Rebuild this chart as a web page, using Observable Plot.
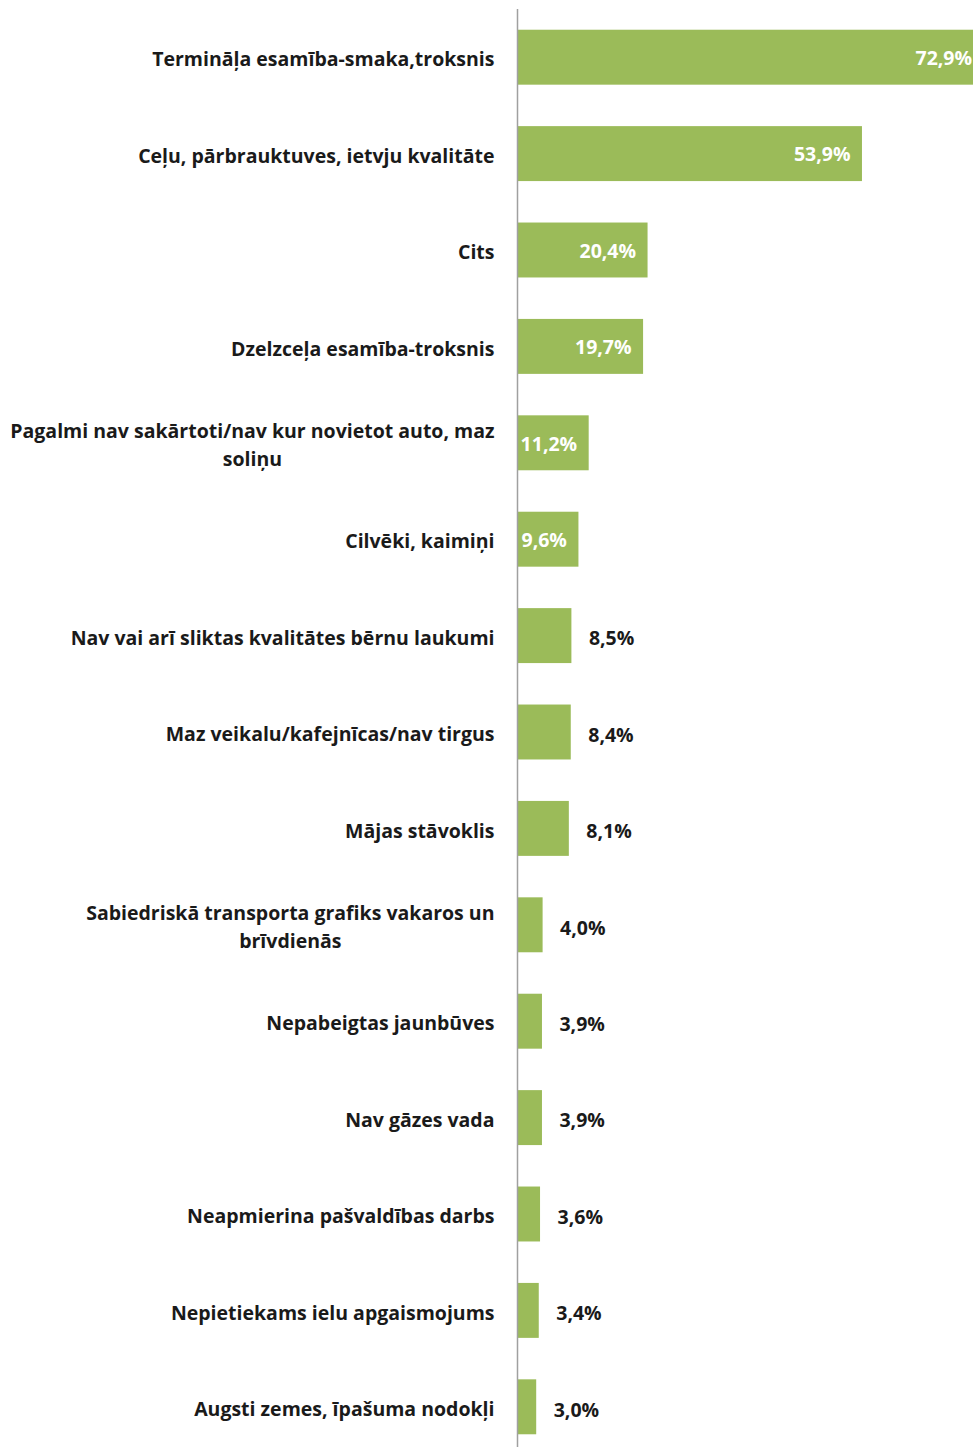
<!DOCTYPE html>
<html>
<head>
<meta charset="utf-8">
<script src="https://cdn.jsdelivr.net/npm/d3@7"></script>
<script src="https://cdn.jsdelivr.net/npm/@observablehq/plot@0.6"></script>
<style>
  html, body { margin: 0; padding: 0; background: #fff; overflow: hidden; }
  #chart { width: 973px; height: 1447px; overflow: hidden; }
</style>
</head>
<body>
<div id="chart"></div>
<script>
const categories = [
  "Termināļa esamība-smaka,troksnis",
  "Ceļu, pārbrauktuves, ietvju kvalitāte",
  "Cits",
  "Dzelzceļa esamība-troksnis",
  "Pagalmi nav sakārtoti/nav kur novietot auto, maz\nsoliņu",
  "Cilvēki, kaimiņi",
  "Nav vai arī sliktas kvalitātes bērnu laukumi",
  "Maz veikalu/kafejnīcas/nav tirgus",
  "Mājas stāvoklis",
  "Sabiedriskā transporta grafiks vakaros un\nbrīvdienās",
  "Nepabeigtas jaunbūves",
  "Nav gāzes vada",
  "Neapmierina pašvaldības darbs",
  "Nepietiekams ielu apgaismojums",
  "Augsti zemes, īpašuma nodokļi"
];
const values = [72.9, 53.9, 20.4, 19.7, 11.2, 9.6, 8.5, 8.4, 8.1, 4.0, 3.9, 3.9, 3.6, 3.4, 3.0];

const data = categories.map((c, i) => ({category: c, value: values[i]}));
const fmt = v => v.toFixed(1).replace(".", ",") + "%";
const inside = data.filter(d => d.value > 9);
const outside = data.filter(d => d.value <= 9);

const chart = Plot.plot({
  width: 973,
  height: 1447,
  marginLeft: 517,
  marginRight: 0,
  marginTop: 9,
  marginBottom: -8,
  style: {fontFamily: "'Open Sans'", fontSize: "19.5px", fontWeight: "bold", color: "#1a1a1a", background: "#fff"},
  x: {domain: [0, 71.25], axis: null},
  y: {domain: categories, paddingInner: 0.43, paddingOuter: 0.215, round: false, label: null},
  marks: [
    Plot.barX(data, {x: "value", y: "category", fill: "#9BBB59", clip: true}),
    Plot.ruleX([0], {stroke: "#A0A0A0", strokeWidth: 1.5}),
    Plot.text(inside, {x: "value", y: "category", text: d => fmt(d.value), fill: "white", textAnchor: "end", dx: -12, dy: 1, fontSize: 19.5, fontWeight: "bold"}),
    Plot.text(outside, {x: "value", y: "category", text: d => fmt(d.value), fill: "#1a1a1a", textAnchor: "start", dx: 17, dy: 3, fontSize: 19.5, fontWeight: "bold"}),
    Plot.axisY({tickSize: 0, tickPadding: 23, fontSize: 19.5, fontWeight: "bold", lineHeight: 1.4, fill: "#1a1a1a", label: null})
  ]
});
document.getElementById("chart").appendChild(chart);

// center multi-line tick labels within their block (right-aligned block)
chart.querySelectorAll("g[aria-label='y-axis tick label'] text").forEach(t => {
  const spans = t.querySelectorAll("tspan");
  if (spans.length > 1) {
    let w = 0;
    spans.forEach(s => { w = Math.max(w, s.getComputedTextLength()); });
    t.setAttribute("text-anchor", "middle");
    spans.forEach(s => s.setAttribute("x", -w / 2));
  }
});
</script>
</body>
</html>
